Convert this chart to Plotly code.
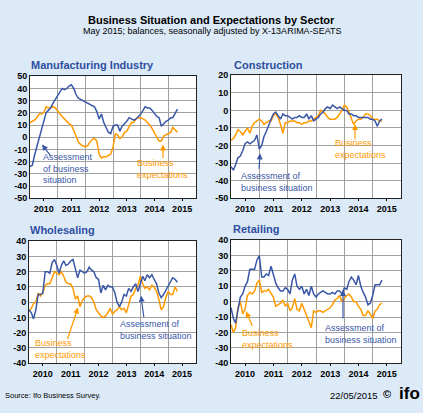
import plotly.graph_objects as go
import pandas as pd

# ---------------- data (monthly, Jan 2010 - May 2015) ----------------
months = pd.date_range("2010-01-01", periods=65, freq="MS")
year_labels = ["2010", "2011", "2012", "2013", "2014", "2015"]
year_label_pos = [f"{y}-07-02" for y in year_labels]
year_grid_pos = [f"{y}-01-01" for y in ["2011", "2012", "2013", "2014", "2015"]]

manu_situation = [-24, -23, -15, -8, -1, 5, 13, 20, 22, 24, 28, 31, 33, 37, 40, 39, 40, 42, 43, 40,
                  35, 32, 31, 30, 29, 28, 27, 26, 25, 21, 15, 19, 12, 8, 4, 3, 9, 10, 10, 5,
                  9, 11, 13, 16, 15, 14, 15, 17, 19, 22, 25, 24, 24, 22, 19, 17, 16, 9, 11, 13,
                  14, 16, 16, 20, 23]
manu_expect = [12, 13, 14, 16, 19, 19, 20, 25, 24, 24, 25, 24, 21, 19, 17, 15, 13, 11, 10, 6,
               1, -4, -6, -7, -8, -7, -4, -2, -1, -3, -14, -17, -16, -16, -15, -14, -8, 3, 2, -1,
               0, 4, 5, 9, 12, 12, 15, 16, 16, 15, 14, 12, 10, 7, 3, 0, -3, -3, 1, 2,
               3, 4, 8, 6, 4]

cons_situation = [-32, -34, -31, -27, -26, -23, -19, -18, -19, -18, -17, -14, -22, -20, -15, -12, -8, -5, -2, -1,
                  -3, -5, -2, -3, -3, -4, -5, -4, -4, -3, -4, -4, -2, -5, -3, -6, -5, -4, -2, -1,
                  1, 2, 1, 3, 2, 1, 2, 1, 0, 0, -2, -2, -3, -3, -4, -4, -4, -4, -4, -5,
                  -5, -6, -9, -6, -5]
cons_expect = [-17, -16, -14, -11, -12, -14, -12, -10, -13, -9, -7, -6, -5, -6, -8, -7, -6, -6, -3, -2,
               -4, -8, -13, -7, -7, -6, -6, -6, -7, -7, -8, -7, -7, -6, -6, -5, -4, -3, 0, -1,
               -2, -4, -5, -5, -5, -4, -2, 0, 3, 2, -1, -5, -8, -6, -5, -5, -4, -2, -2, -3,
               -5, -5, -5, -6, -6]

whol_situation = [-5, -7, -11, -5, 5, 5, 6, 20, 20, 19, 26, 28, 24, 19, 24, 27, 24, 25, 27, 28,
                  22, 16, 21, 20, 19, 20, 23, 21, 20, 16, 15, 6, 11, 8, 11, 10, 10, 6, 0, -3,
                  0, 5, 4, 9, 7, 10, 12, 7, 12, 17, 14, 18, 16, 18, 15, 12, 6, 3, 5, 8,
                  11, 14, 16, 15, 13]
whol_expect = [-6, -4, -1, 0, 6, 4, 6, 11, 12, 12, 16, 20, 19, 18, 20, 17, 13, 12, 12, 9,
               2, 4, -3, 1, 3, 4, 4, 3, 0, -5, -7, -9, -10, -9, -7, -4, -8, -6, -5, -3,
               -5, -4, -7, -1, 4, 5, 9, 11, 17, 12, 9, 10, 8, 11, 10, 7, 2, -5, -3, 3,
               7, 5, 5, 10, 7]

reta_situation = [-4, -11, -14, -4, 3, 5, 10, 13, 21, 21, 21, 27, 30, 16, 16, 18, 17, 23, 17, 12,
                  9, 7, 7, 9, 8, 5, 14, 18, 10, 8, 10, 5, 8, 4, 10, 5, 3, 5, 6, 7,
                  6, 5, 5, 6, 5, 7, 7, 5, 9, 8, 13, 16, 14, 11, 17, 10, 6, 3, -2, -1,
                  4, 11, 11, 11, 14]
reta_expect = [-15, -20, -17, -4, 0, -8, -5, 4, 6, 5, 7, 12, 14, 6, 7, 7, 8, 5, 3, -3,
               -2, -1, 1, -3, -1, -6, -4, 2, -5, -6, -1, -5, -9, -14, -17, -6, -7, -6, -6, -7,
               -6, -5, -4, -2, 1, 2, 4, 0, 2, 4, 5, 3, 0, 0, -3, -5, -9, -9, -6, -8,
               -11, -6, -5, -2, -1]

manu_yticks = [50, 40, 30, 20, 10, 0, -10, -20, -30, -40, -50]
cons_yticks = [20, 10, 0, -10, -20, -30, -40, -50]
whol_yticks = [40, 30, 20, 10, 0, -10, -20, -30, -40]
reta_yticks = [40, 30, 20, 10, 0, -10, -20, -30, -40]

# ---------------- style ----------------
W, H = 423, 413
BLUE = "#3A57A7"
ORANGE = "#FF9A00"
TITLE_BLUE = "#2F4FA0"
GRID = "#A0A0A0"
BG = "#DCEAF8"
FONT = "Arial, Liberation Sans, sans-serif"


def px(xp):
    return xp / W


def py(yp):
    return 1 - yp / H


fig = go.Figure()

panels = [
    (manu_situation, manu_expect, "x", "y"),
    (cons_situation, cons_expect, "x2", "y2"),
    (whol_situation, whol_expect, "x3", "y3"),
    (reta_situation, reta_expect, "x4", "y4"),
]
for sit, exp, xa, ya in panels:
    fig.add_trace(go.Scatter(x=months, y=exp, mode="lines", line=dict(color=ORANGE, width=1.5),
                             xaxis=xa, yaxis=ya, showlegend=False, hoverinfo="skip"))
    fig.add_trace(go.Scatter(x=months, y=sit, mode="lines", line=dict(color=BLUE, width=1.5),
                             xaxis=xa, yaxis=ya, showlegend=False, hoverinfo="skip"))


def xaxis(domain, anchor):
    return dict(domain=domain, anchor=anchor, range=["2010-01-01", "2016-01-01"],
                tickmode="array", tickvals=year_label_pos, ticktext=year_labels,
                showgrid=False, ticks="outside", ticklen=2, tickcolor="#000000",
                tickfont=dict(family=FONT, size=9, color="#000000", weight="bold"),
                showline=True, linecolor="#222222", linewidth=1, mirror=True,
                zeroline=False, fixedrange=True,
                minor=dict(tickmode="array", tickvals=year_grid_pos, showgrid=True,
                           gridcolor=GRID, gridwidth=1, ticks=""))


def yaxis(domain, anchor, ticks):
    return dict(domain=domain, anchor=anchor, range=[min(ticks), max(ticks)],
                tickmode="array", tickvals=ticks, ticktext=[str(t) for t in ticks],
                showgrid=True, gridcolor=GRID, gridwidth=1, ticks="",
                tickfont=dict(family=FONT, size=9, color="#000000", weight="bold"),
                showline=True, linecolor="#222222", linewidth=1, mirror=True,
                zeroline=False, fixedrange=True)


fig.update_layout(
    width=W, height=H,
    margin=dict(l=0, r=0, t=0, b=0),
    paper_bgcolor=BG, plot_bgcolor="#FFFFFF",
    font=dict(family=FONT),
    xaxis=xaxis([px(30), px(196)], "y"),
    yaxis=yaxis([py(198), py(73)], "x", manu_yticks),
    xaxis2=xaxis([px(231), px(401)], "y2"),
    yaxis2=yaxis([py(198), py(72)], "x2", cons_yticks),
    xaxis3=xaxis([px(29), px(196)], "y3"),
    yaxis3=yaxis([py(367), py(242)], "x3", whol_yticks),
    xaxis4=xaxis([px(231), px(401)], "y4"),
    yaxis4=yaxis([py(367), py(241)], "x4", reta_yticks),
)

ann = []


def text(x, y, t, size=9, color="#000000", bold=False, xanchor="left", align="left"):
    ann.append(dict(x=px(x), y=py(y), xref="paper", yref="paper", text=t, showarrow=False,
                    xanchor=xanchor, yanchor="middle", align=align,
                    font=dict(family=FONT, size=size, color=color, weight="bold" if bold else "normal")))


def arrow(tipx, tipy, tailx, taily, color):
    ann.append(dict(x=px(tipx), y=py(tipy), xref="paper", yref="paper", text="",
                    showarrow=True, ax=tailx - tipx, ay=taily - tipy, axref="pixel", ayref="pixel",
                    arrowhead=2, arrowsize=1, arrowwidth=1.2, arrowcolor=color))


# titles
text(211.5, 15, "Business Situation and Expectations by Sector", size=11, bold=True, xanchor="center", align="center")
text(211.5, 27, "May 2015; balances, seasonally adjusted by X-13ARIMA-SEATS", size=9, xanchor="center", align="center")

text(29, 62, "Manufacturing Industry", size=11, color=TITLE_BLUE, bold=True)
text(232, 62, "Construction", size=11, color=TITLE_BLUE, bold=True)
text(28, 231, "Wholesaling", size=11, color=TITLE_BLUE, bold=True)
text(231, 230, "Retailing", size=11, color=TITLE_BLUE, bold=True)

# panel labels
text(41, 168, "Assessment<br>of business<br>situation", color=BLUE)
text(135, 168, "Business<br>expectations", color=ORANGE)
arrow(42, 143, 52, 156, BLUE)
arrow(163, 143, 163, 158, ORANGE)

text(333, 148, "Business<br>expectations", color=ORANGE)
text(239, 181, "Assessment of<br>business situation", color=BLUE)
arrow(355, 122, 355, 139, ORANGE)
arrow(260, 152, 259, 169, BLUE)

text(118, 333, "Assessment of<br>business situation", color=BLUE)
text(33, 353, "Business<br>expectations", color=ORANGE)
arrow(141, 298, 144, 321, BLUE)
arrow(78, 310, 67, 343, ORANGE)

text(240, 342, "Business<br>expectations", color=ORANGE)
text(323, 337, "Assessment of<br>business situation", color=BLUE)
arrow(246, 314, 253, 330, ORANGE)
arrow(343, 292, 343, 322, BLUE)

# footer
text(3, 400, "Source: Ifo Business Survey.", size=7.5)
text(328, 400, "22/05/2015", size=9.5)
text(387, 399, "©", size=11, bold=True, xanchor="center", align="center")
text(397, 398, "ifo", size=17, bold=True)

fig.update_layout(annotations=ann)
fig.write_html("out.html", config={"displayModeBar": False},
               post_script="document.body.style.margin='0';document.body.style.overflow='hidden';")
